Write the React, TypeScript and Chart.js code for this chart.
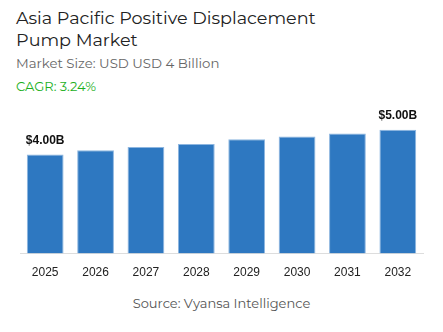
import React, { useEffect, useRef } from "react";
import { Chart, registerables } from "chart.js";

Chart.register(...registerables);

const years = ["2025", "2026", "2027", "2028", "2029", "2030", "2031", "2032"];
const marketSize = [4.0, 4.17, 4.3, 4.43, 4.62, 4.73, 4.85, 5.0];
const barLabels = ["$4.00B", "", "", "", "", "", "", "$5.00B"];

const labelPlugin = {
  id: "barLabels",
  afterDatasetsDraw(chart: any) {
    const ctx = chart.ctx;
    const meta = chart.getDatasetMeta(0);
    ctx.save();
    ctx.font = "bold 12px 'Liberation Sans', Arial, sans-serif";
    ctx.fillStyle = "#111111";
    ctx.textAlign = "center";
    ctx.textBaseline = "alphabetic";
    meta.data.forEach((bar: any, i: number) => {
      const t = barLabels[i];
      if (t) ctx.fillText(t, bar.x, bar.y - 11);
    });
    ctx.restore();
  },
};

export default function App() {
  const ref = useRef<HTMLCanvasElement>(null);
  useEffect(() => {
    document.body.style.margin = "0";
    const chart = new Chart(ref.current!, {
      type: "bar",
      data: {
        labels: years,
        datasets: [
          {
            data: marketSize,
            backgroundColor: "#2E78C1",
            borderColor: "#8DB6E0",
            borderWidth: { top: 1, left: 1, right: 1, bottom: 0 },
            categoryPercentage: 0.73,
            barPercentage: 1,
          },
        ],
      },
      options: {
        animation: false,
        responsive: false,
        maintainAspectRatio: false,
        layout: { padding: { left: 20, right: 20, top: 0, bottom: 0 } },
        plugins: { legend: { display: false }, tooltip: { enabled: false } },
        scales: {
          x: {
            grid: { display: false, drawTicks: false },
            border: { display: true, color: "#DDDDDD", width: 1 },
            ticks: {
              color: "#222222",
              padding: 12,
              font: { family: "'Liberation Sans', Arial, sans-serif", size: 12 },
            },
          },
          y: {
            display: false,
            min: 0,
            max: 6,
          },
        },
      },
      plugins: [labelPlugin],
    });
    return () => chart.destroy();
  }, []);

  const font = "Montserrat, 'Open Sans', 'Noto Sans', sans-serif";
  return (
    <div style={{ position: "relative", width: 443, height: 332, background: "#fff", overflow: "hidden" }}>
      <div style={{ position: "absolute", left: 16, top: 7, fontFamily: font, fontSize: 17.6, lineHeight: "21.5px", color: "#222", width: 340 }}>
        Asia Pacific Positive Displacement Pump Market
      </div>
      <div style={{ position: "absolute", left: 16, top: 55, fontFamily: font, fontSize: 13.3, color: "#666" }}>
        Market Size: USD USD 4 Billion
      </div>
      <div style={{ position: "absolute", left: 16, top: 78, fontFamily: font, fontSize: 13, color: "#1DB01D" }}>
        CAGR: 3.24%
      </div>
      <canvas ref={ref} width={443} height={187} style={{ position: "absolute", left: 0, top: 105, width: 443, height: 187 }} />
      <div style={{ position: "absolute", left: 0, width: 443, top: 295, textAlign: "center", fontFamily: font, fontSize: 13, color: "#555" }}>
        Source: Vyansa Intelligence
      </div>
    </div>
  );
}
